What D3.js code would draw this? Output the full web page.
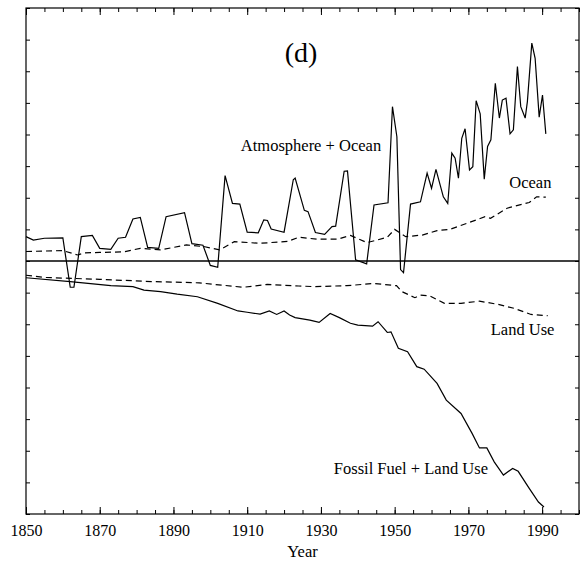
<!DOCTYPE html>
<html>
<head>
<meta charset="utf-8">
<style>
  body { margin: 0; background: #fff; }
  svg { display: block; }
  .axis path { stroke: none; }
  .axis line { stroke: #000; stroke-width: 1; }
  .axis text { font-family: "Liberation Serif", "Times New Roman", serif; font-size: 16px; fill: #000; }
  .label { font-family: "Liberation Serif", "Times New Roman", serif; fill: #000; }
  .series { fill: none; stroke: #000; stroke-width: 1.2; }
  .dashed { stroke-dasharray: 6 4; }
</style>
</head>
<body>
<script src="https://cdn.jsdelivr.net/npm/d3@7"></script>
<script>
// values, [year, flux]
var atmOcean = [[1850,0.77],[1852,0.66],[1855,0.72],[1860,0.73],[1862,-0.83],[1863,-0.83],[1865,0.77],[1868,0.81],
  [1870,0.40],[1873,0.37],[1875,0.72],[1877,0.75],[1879,1.33],[1881,1.38],[1883,0.43],[1886,0.40],[1888,1.40],
  [1893,1.53],[1895,0.55],[1898,0.50],[1900,-0.14],[1902,-0.20],[1904,2.70],[1906,1.82],[1908,1.80],[1910,0.91],
  [1913,0.89],[1914.5,1.30],[1915.5,1.28],[1916.5,1.01],[1920,0.91],[1922.5,2.57],[1923,2.62],[1925.5,1.60],
  [1926.5,1.56],[1928.5,0.90],[1931,0.84],[1933,1.09],[1934,1.10],[1936.3,2.84],[1937.2,2.85],[1939.4,0.04],
  [1942.4,-0.09],[1944.4,1.77],[1948.2,1.84],[1949.4,4.88],[1950.6,3.93],[1951.6,-0.27],[1952.4,-0.37],
  [1954.3,1.80],[1957,1.87],[1958.8,2.78],[1960,2.30],[1961.2,2.90],[1963.2,2.03],[1964.4,1.82],[1965.5,3.41],
  [1966.4,3.25],[1967.3,2.62],[1968.2,3.88],[1969.1,4.18],[1970.3,2.88],[1971.2,2.98],[1972.1,5.07],[1973.2,4.65],
  [1974.3,2.59],[1975.2,3.62],[1976.1,3.83],[1977.3,5.62],[1978.4,4.52],[1979.2,5.09],[1980.2,5.15],[1981.3,4.02],
  [1982.2,4.15],[1983.3,6.15],[1984.2,4.88],[1985.4,4.52],[1986,5.04],[1987.2,6.89],[1988.1,6.41],[1989.2,4.55],
  [1990.1,5.25],[1991,4.02]];

var ocean = [[1850,0.30],[1860,0.33],[1864,0.19],[1866,0.26],[1870,0.27],[1876.5,0.29],[1881,0.40],[1886.5,0.35],
  [1893.5,0.51],[1898.5,0.45],[1902.5,0.35],[1906.5,0.61],[1913.5,0.56],[1921,0.62],[1924,0.75],[1929,0.69],
  [1934.5,0.69],[1938,0.81],[1942.5,0.58],[1948,0.75],[1950,1.00],[1953,0.77],[1957.5,0.82],[1961.5,0.96],
  [1965,1.00],[1970,1.21],[1974.5,1.40],[1976,1.35],[1980.5,1.67],[1986.5,1.85],[1988.5,2.03],[1991,2.02]];

var landUse = [[1850,-0.45],[1855,-0.52],[1870,-0.58],[1884,-0.65],[1897,-0.69],[1901,-0.74],[1909,-0.83],
  [1915.5,-0.74],[1924,-0.79],[1928,-0.81],[1937,-0.78],[1944.5,-0.71],[1950.5,-0.78],[1952,-0.97],[1955.5,-1.16],
  [1957,-1.08],[1959.5,-1.10],[1963.5,-1.34],[1968,-1.34],[1973,-1.27],[1978,-1.37],[1982.5,-1.50],[1987,-1.69],
  [1991.5,-1.73]];

var fossilLand = [[1850,-0.53],[1862,-0.65],[1873,-0.78],[1879,-0.81],[1882,-0.92],[1886.5,-0.97],[1891,-1.05],
  [1896.5,-1.13],[1902,-1.34],[1907.5,-1.58],[1910,-1.62],[1913.5,-1.68],[1916,-1.58],[1918,-1.69],[1920,-1.58],
  [1921.5,-1.71],[1923,-1.79],[1927,-1.87],[1929.5,-1.94],[1932.5,-1.66],[1935,-1.79],[1938,-1.97],[1940,-2.03],
  [1944,-2.06],[1945.5,-1.92],[1948,-2.26],[1949,-2.24],[1951,-2.76],[1953.5,-2.87],[1956,-3.34],[1958,-3.42],
  [1961.5,-3.87],[1964,-4.40],[1968,-4.82],[1971,-5.45],[1973,-5.91],[1975,-5.91],[1977,-6.35],[1979.5,-6.77],
  [1982,-6.56],[1983.5,-6.65],[1986.5,-7.19],[1989,-7.62],[1990.5,-7.78]];

var majorYears = [1850, 1870, 1890, 1910, 1930, 1950, 1970, 1990];
var minorYears = d3.range(1850, 2001, 5);
var yTicks = d3.range(-8, 9, 1);

// label centres in data units
var labels = [
  {text: "(d)", x: 1924.6, y: 6.3, size: 28},
  {text: "Atmosphere + Ocean", x: 1927.3, y: 3.48, size: 16.5},
  {text: "Ocean", x: 1986.8, y: 2.31, size: 16.5},
  {text: "Land Use", x: 1984.7, y: -2.34, size: 16.5},
  {text: "Fossil Fuel + Land Use", x: 1954.4, y: -6.73, size: 16.5}
];

var W = 586, H = 566;
var mLeft = 26, mRight = 579, mTop = 8, mBottom = 514;

var svg = d3.select("body").append("svg")
  .attr("width", W).attr("height", H);

var x = d3.scaleLinear().domain([1850, 2000]).range([mLeft, mRight]);
var y = d3.scaleLinear().domain([-8, 8]).range([mBottom, mTop]);

// frame
svg.append("rect")
  .attr("x", mLeft).attr("y", mTop)
  .attr("width", mRight - mLeft).attr("height", mBottom - mTop)
  .attr("fill", "none").attr("stroke", "#000").attr("stroke-width", 1.2);

// ticks, all pointing inward
svg.append("g").attr("class", "axis")
  .attr("transform", "translate(0," + mBottom + ")")
  .call(d3.axisBottom(x).tickValues(minorYears).tickSize(-4).tickFormat(""));
svg.append("g").attr("class", "axis")
  .attr("transform", "translate(0," + mBottom + ")")
  .call(d3.axisBottom(x).tickValues(majorYears).tickSize(-7).tickPadding(17).tickFormat(d3.format("d")));
svg.append("g").attr("class", "axis")
  .attr("transform", "translate(0," + mTop + ")")
  .call(d3.axisTop(x).tickValues(minorYears).tickSize(-4).tickFormat(""));
svg.append("g").attr("class", "axis")
  .attr("transform", "translate(0," + mTop + ")")
  .call(d3.axisTop(x).tickValues(majorYears).tickSize(-7).tickFormat(""));
svg.append("g").attr("class", "axis")
  .attr("transform", "translate(" + mLeft + ",0)")
  .call(d3.axisLeft(y).tickValues(yTicks).tickSize(-4).tickFormat(""));
svg.append("g").attr("class", "axis")
  .attr("transform", "translate(" + mRight + ",0)")
  .call(d3.axisRight(y).tickValues(yTicks).tickSize(-4).tickFormat(""));

svg.selectAll(".axis text").attr("dy", "0.32em");

// zero line
svg.append("line")
  .attr("x1", x(1850)).attr("x2", x(2000))
  .attr("y1", y(0)).attr("y2", y(0))
  .attr("stroke", "#000").attr("stroke-width", 1.3);

var line = d3.line()
  .x(function(d) { return x(d[0]); })
  .y(function(d) { return y(d[1]); });

svg.append("path").attr("class", "series").attr("d", line(atmOcean));
svg.append("path").attr("class", "series dashed").attr("d", line(ocean));
svg.append("path").attr("class", "series dashed").attr("d", line(landUse));
svg.append("path").attr("class", "series").attr("d", line(fossilLand));

svg.selectAll(".series-label")
  .data(labels)
  .enter().append("text")
  .attr("class", "label")
  .attr("x", function(d) { return x(d.x); })
  .attr("y", function(d) { return y(d.y); })
  .attr("text-anchor", "middle")
  .attr("font-size", function(d) { return d.size; })
  .text(function(d) { return d.text; });

svg.append("text")
  .attr("class", "label")
  .attr("x", (mLeft + mRight) / 2)
  .attr("y", 557)
  .attr("text-anchor", "middle")
  .attr("font-size", 16.5)
  .text("Year");
</script>
</body>
</html>
